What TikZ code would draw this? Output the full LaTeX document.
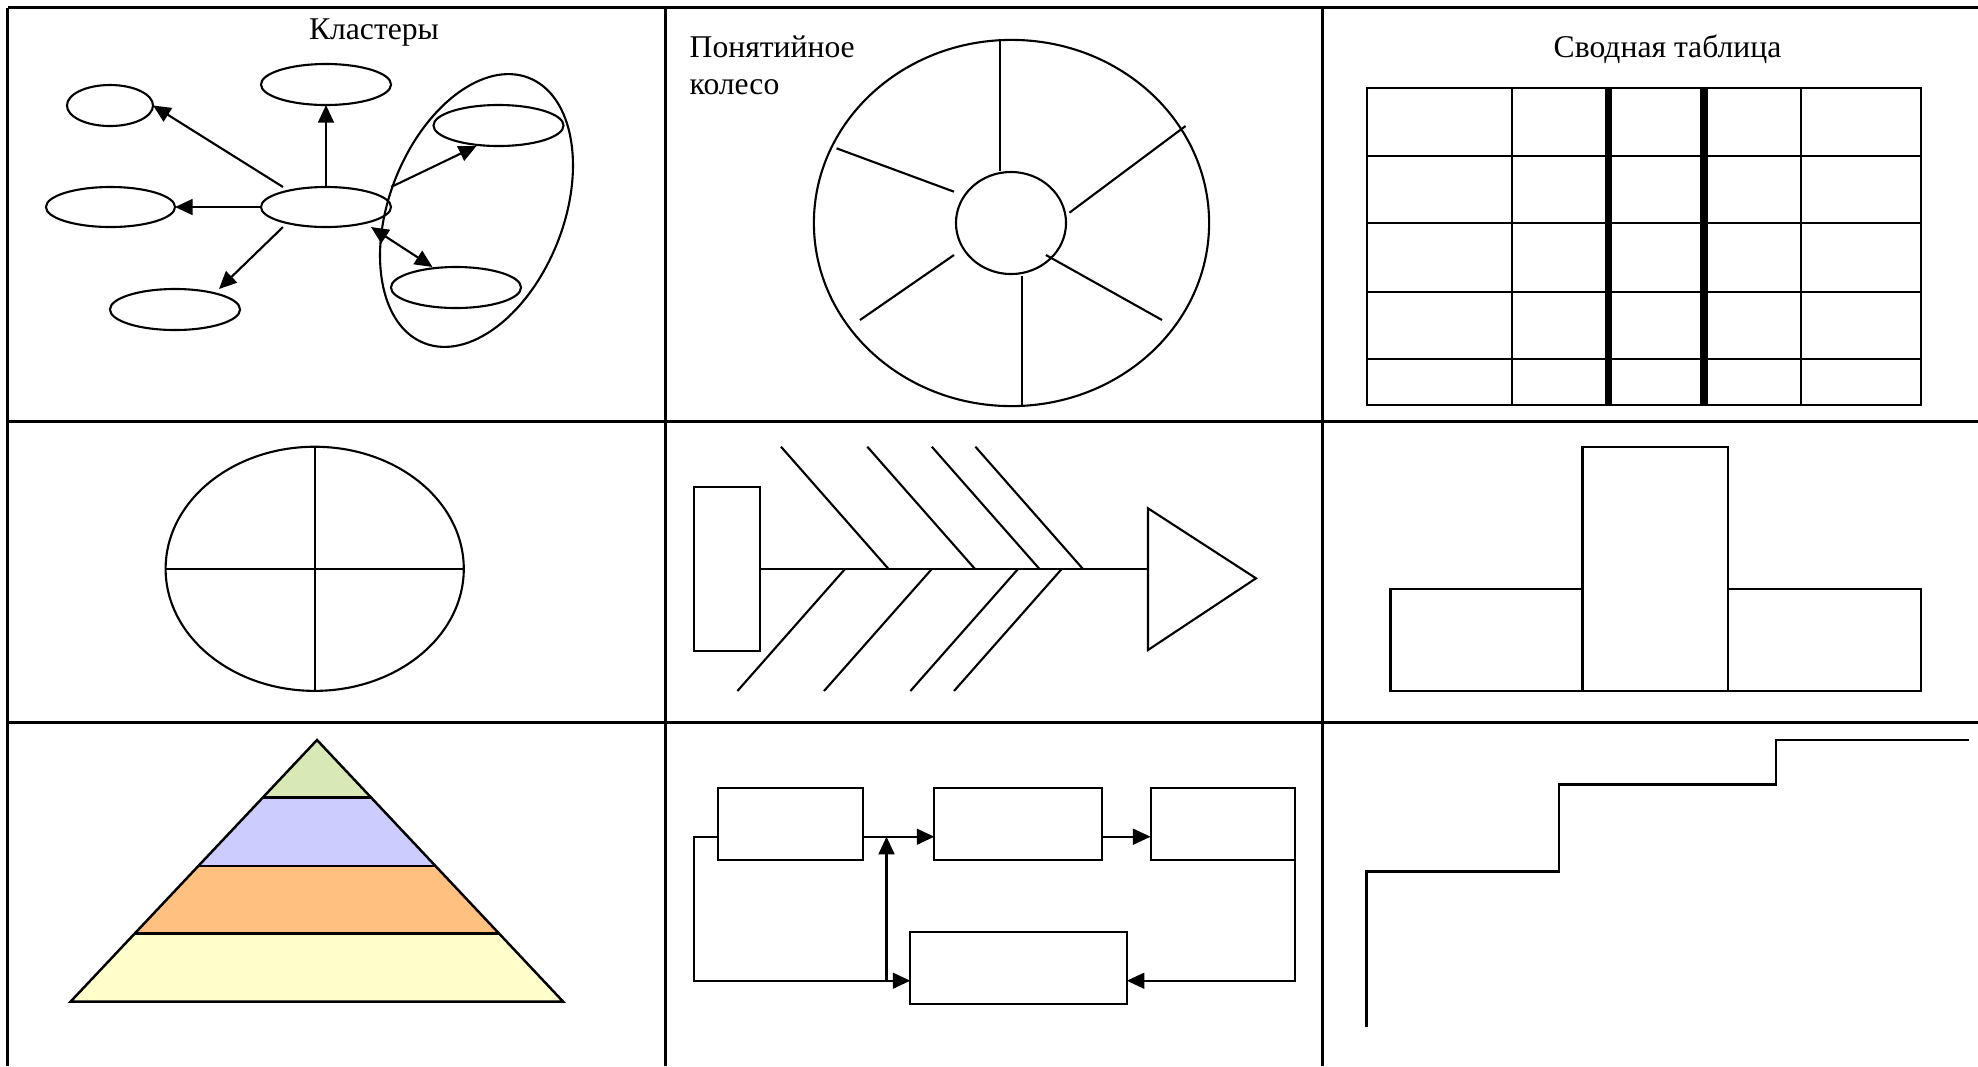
\documentclass[tikz,border=0pt]{standalone}
\usepackage{fontspec}
\setmainfont{Liberation Serif}
\usetikzlibrary{shapes.geometric,arrows.meta,calc}
\definecolor{pyrG}{HTML}{D8E9B5}
\definecolor{pyrB}{HTML}{CCCCFF}
\definecolor{pyrO}{HTML}{FFC080}
\definecolor{pyrY}{HTML}{FFFFCC}
\begin{document}
\begin{tikzpicture}[x=0.01cm,y=-0.01cm,
  ell/.style={draw, ellipse, inner sep=0pt, outer sep=0pt, line width=0.6pt},
  box/.style={draw, rectangle, inner sep=0pt, outer sep=0pt, line width=0.6pt},
  gridln/.style={line width=0.85pt},
  ln/.style={line width=0.6pt},
  thk/.style={line width=0.7pt},
  arr/.style={ln, -{Triangle[length=5pt,width=4.5pt]}},
  darr/.style={ln, {Triangle[length=5pt,width=4.5pt]}-{Triangle[length=5pt,width=4.5pt]}},
  lbl/.style={inner sep=0pt, font=\fontsize{9pt}{10.5pt}\selectfont}]
\useasboundingbox (0,0) rectangle (1978,1066);
\fill[white] (0,0) rectangle (1978,1066);

% table grid
\draw[gridln] (7.5,7.5) -- (1978,7.5);
\draw[gridln] (7.5,421) -- (1978,421);
\draw[gridln] (7.5,722) -- (1978,722);
\draw[gridln] (7.5,7.5) -- (7.5,1066);
\draw[gridln] (665,7.5) -- (665,1066);
\draw[gridln] (1322,7.5) -- (1322,1066);

% ---- cell 1: clusters
\node[lbl, anchor=base] (t1) at (374,39) {Кластеры};
\node[ell, minimum width=8.6mm, minimum height=4.1mm] (tl) at (110,105.5) {};
\node[ell, minimum width=13mm, minimum height=4.1mm] (tc) at (326,84.5) {};
\node[ell, minimum width=13mm, minimum height=4.1mm] (rt) at (498.5,125.5) {};
\node[ell, minimum width=12.9mm, minimum height=4mm] (lm) at (110.5,207) {};
\node[ell, minimum width=13mm, minimum height=4mm] (c) at (326,207) {};
\node[ell, minimum width=13mm, minimum height=4.1mm] (bl) at (175,309.5) {};
\node[ell, minimum width=13mm, minimum height=4.1mm] (rb) at (456,287.5) {};
\node[ell, minimum width=28.5mm, minimum height=17.4mm, rotate=68.4] (cl) at (476.5,210.5) {};
\draw[arr] ($(c.north)+(-43,0)$) -- (tl.east);
\draw[arr] (c.north) -- (tc.south);
\draw[arr] (c.west) -- (lm.east);
\draw[arr] ($(c.south)+(-43,0)$) -- ($(bl.north)+(44,0)$);
\draw[arr] (c.north -| c.east) -- ($(rt.south)+(-22,0)$);
\draw[darr] ($(c.south)+(45,0)$) -- ($(rb.north)+(-23.5,0)$);

% ---- cell 2: wheel
\node[lbl, anchor=base west] (t2a) at (689,57) {Понятийное};
\node[lbl, anchor=base west] (t2b) at (689,94) {колесо};
\node[ell, minimum width=39.5mm, minimum height=36.6mm] (wo) at (1011.5,223) {};
\node[ell, minimum width=11mm, minimum height=10.2mm] (wi) at (1011,223) {};
\draw[ln] (1000,40) -- (1000,170.7);
\draw[ln] (836.5,148.3) -- (954,191.7);
\draw[ln] (1185.6,126) -- (1069.4,212.7);
\draw[ln] (954,255) -- (860,320);
\draw[ln] (1045.9,255) -- (1162,320);
\draw[ln] (1022,276) -- (1022,406);

% ---- cell 3: summary table
\node[lbl, anchor=base] (t3) at (1667.5,57) {Сводная таблица};
\draw[ln] (1366.8,88.3) rectangle (1921,405);
\foreach \yy in {155.7,223.3,291.7,359.3}
  \draw[ln] (1366.8,\yy) -- (1921,\yy);
\foreach \xx in {1511.7,1800.6}
  \draw[ln] (\xx,88.3) -- (\xx,405);
\draw[line width=2pt] (1608.3,88.3) -- (1608.3,405);
\draw[line width=2pt] (1704,88.3) -- (1704,405);

% ---- cell 4: quartered circle
\node[ell, minimum width=29.8mm, minimum height=24.4mm] (q) at (314.7,568.8) {};
\draw[ln] (q.north) -- (q.south);
\draw[ln] (q.west) -- (q.east);

% ---- cell 5: fishbone
\node[box, minimum width=6.54mm, minimum height=16.34mm] (fh) at (726.9,569) {};
\draw[ln] (fh.east) -- (1148,569);
\draw[ln] (1148,508.3) -- (1256,578.3) -- (1148,650) -- cycle;
\draw[ln] (781,446.7) -- (888.6,569);
\draw[ln] (867.3,446.7) -- (975,569);
\draw[ln] (931.8,446.7) -- (1039.5,569);
\draw[ln] (975.4,446.7) -- (1083,569);
\draw[ln] (845,569) -- (737.4,691);
\draw[ln] (931.8,569) -- (824,691);
\draw[ln] (1018,569) -- (910.4,691);
\draw[ln] (1061.7,569) -- (954,691);

% ---- cell 6: bars
\draw[thk] (1390.3,589) rectangle (1582.6,691);
\draw[thk] (1582.6,447) rectangle (1727.9,691);
\draw[thk] (1727.9,589) rectangle (1921.1,691);

% ---- cell 7: pyramid
\fill[pyrY] (134.7,933.7) -- (499.3,933.7) -- (563.2,1001.7) -- (70.5,1001.7) -- cycle;
\fill[pyrO] (198.4,866) -- (435.6,866) -- (499.3,933.7) -- (134.7,933.7) -- cycle;
\fill[pyrB] (262.7,797.7) -- (371.3,797.7) -- (435.6,866) -- (198.4,866) -- cycle;
\fill[pyrG] (317,740) -- (371.3,797.7) -- (262.7,797.7) -- cycle;
\draw[thk] (317,740) -- (563.2,1001.7) -- (70.5,1001.7) -- cycle;
\draw[thk] (262.7,797.7) -- (371.3,797.7);
\draw[thk] (198.4,866) -- (435.6,866);
\draw[thk] (134.7,933.7) -- (499.3,933.7);

% ---- cell 8: flow chart
\node[box, minimum width=14.46mm, minimum height=7.2mm] (fa) at (790.3,824.3) {};
\node[box, minimum width=16.79mm, minimum height=7.2mm] (fb) at (1018.35,824.3) {};
\node[box, minimum width=14.4mm, minimum height=7.2mm] (fc) at (1222.6,824.3) {};
\node[box, minimum width=21.63mm, minimum height=7.2mm] (fd) at (1018.55,968.3) {};
\coordinate (ab) at ($(fa.east)+(0,12.4)$);
\coordinate (fbk) at (886.5,980.7);
\draw[arr] (ab) -- ($(fb.west)+(0,12.4)$);
\draw[arr] ($(fb.east)+(0,12.4)$) -- ($(fc.west)+(0,12.4)$);
\draw[arr] ($(fa.west)+(0,12.4)$) -- ++(-24,0) |- ($(fd.west)+(0,12.4)$);
\draw[arr] (fbk) -- (fbk |- ab);
\draw[arr] (fc.south east) |- ($(fd.east)+(0,12.4)$);

% ---- cell 9: staircase
\draw[thk] (1366.4,1026.7) -- (1366.4,871.7) -- (1559,871.7) -- (1559,784.3)
  -- (1775.8,784.3) -- (1775.8,740) -- (1969.4,740);
\end{tikzpicture}
\end{document}
